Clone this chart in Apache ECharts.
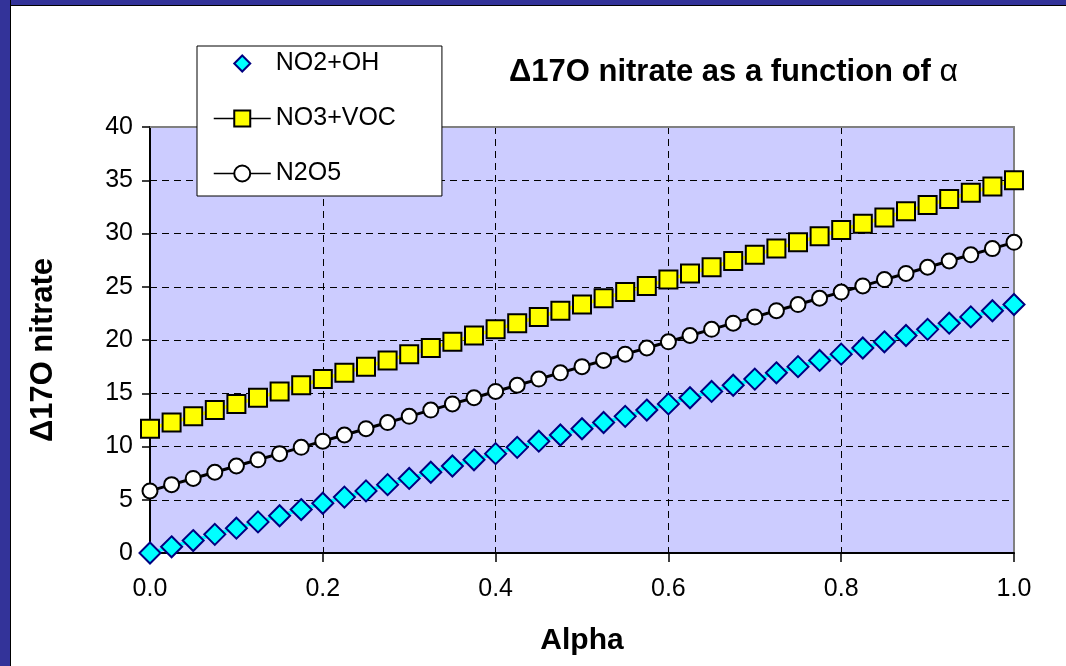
<!DOCTYPE html>
<html>
<head>
<meta charset="utf-8">
<title>Δ17O nitrate as a function of α</title>
<script src="https://cdn.jsdelivr.net/npm/echarts@6/dist/echarts.min.js"></script>
<style>
  html, body { margin: 0; padding: 0; background: #ffffff; }
  #wrap { position: relative; width: 1066px; height: 666px; overflow: hidden; }
  #chart { position: absolute; left: 0; top: 0; width: 1066px; height: 666px; }
  .band-top { position: absolute; left: 0; top: 0; width: 1066px; height: 5px; background: #333399; border-bottom: 1px solid #000; }
  .band-left { position: absolute; left: 0; top: 0; width: 10px; height: 666px; background: #333399; border-right: 1px solid #000; }
</style>
</head>
<body>
<div id="wrap">
  <div id="chart"></div>
  <div class="band-top"></div>
  <div class="band-left"></div>
</div>
<script>
// Mixing fraction alpha
const alpha = [
  0.000, 0.025, 0.050, 0.075, 0.100, 0.125, 0.150, 0.175, 0.200, 0.225,
  0.250, 0.275, 0.300, 0.325, 0.350, 0.375, 0.400, 0.425, 0.450, 0.475,
  0.500, 0.525, 0.550, 0.575, 0.600, 0.625, 0.650, 0.675, 0.700, 0.725,
  0.750, 0.775, 0.800, 0.825, 0.850, 0.875, 0.900, 0.925, 0.950, 0.975,
  1.000
];

// Δ17O of nitrate for each formation pathway
const no2oh = [
  0.00, 0.58, 1.17, 1.75, 2.33, 2.92, 3.50, 4.08, 4.67, 5.25,
  5.83, 6.42, 7.00, 7.58, 8.17, 8.75, 9.33, 9.92, 10.50, 11.08,
  11.67, 12.25, 12.83, 13.42, 14.00, 14.58, 15.17, 15.75, 16.33, 16.92,
  17.50, 18.08, 18.67, 19.25, 19.83, 20.42, 21.00, 21.58, 22.17, 22.75,
  23.33
];
const no3voc = [
  11.67, 12.25, 12.83, 13.42, 14.00, 14.58, 15.17, 15.75, 16.33, 16.92,
  17.50, 18.08, 18.67, 19.25, 19.83, 20.42, 21.00, 21.58, 22.17, 22.75,
  23.33, 23.92, 24.50, 25.08, 25.67, 26.25, 26.83, 27.42, 28.00, 28.58,
  29.17, 29.75, 30.33, 30.92, 31.50, 32.08, 32.67, 33.25, 33.83, 34.42,
  35.00
];
const n2o5 = [
  5.83, 6.42, 7.00, 7.58, 8.17, 8.75, 9.33, 9.92, 10.50, 11.08,
  11.67, 12.25, 12.83, 13.42, 14.00, 14.58, 15.17, 15.75, 16.33, 16.92,
  17.50, 18.08, 18.67, 19.25, 19.83, 20.42, 21.00, 21.58, 22.17, 22.75,
  23.33, 23.92, 24.50, 25.08, 25.67, 26.25, 26.83, 27.42, 28.00, 28.58,
  29.17
];

const seriesNames = ['NO2+OH', 'NO3+VOC', 'N2O5'];
const titleMain = 'Δ17O nitrate as a function of ';
const titleSymbol = 'α';
const xName = 'Alpha';
const yName = 'Δ17O nitrate';

const FONT = '"Liberation Sans", Arial, sans-serif';
const pairs = (ys) => alpha.map((a, i) => [a, ys[i]]);

const chart = echarts.init(document.getElementById('chart'), null, { renderer: 'canvas' });

const dashed = { show: true, lineStyle: { color: '#000000', width: 1, type: [7, 5] } };

chart.setOption({
  animation: false,
  backgroundColor: '#ffffff',
  title: {
    text: '{b|' + titleMain + '}{a|' + titleSymbol + '}',
    left: 509,
    top: 56,
    padding: 0,
    textStyle: {
      fontFamily: FONT, fontSize: 31, fontWeight: 'bold', color: '#000000',
      rich: {
        b: { fontFamily: FONT, fontSize: 31, fontWeight: 'bold', color: '#000000' },
        a: { fontFamily: FONT, fontSize: 32, fontWeight: 'normal', color: '#000000' }
      }
    }
  },
  legend: {
    orient: 'vertical',
    left: 197,
    top: 46,
    padding: [5, 46, 10, 16],
    itemWidth: 57,
    itemHeight: 20,
    itemGap: 30,
    selectedMode: false,
    backgroundColor: '#ffffff',
    borderColor: '#000000',
    borderWidth: 1,
    textStyle: { fontFamily: FONT, fontSize: 25, color: '#000000' },
    data: [
      { name: seriesNames[0], lineStyle: { width: 0, opacity: 0 } },
      { name: seriesNames[1], lineStyle: { color: '#000000', width: 1.5 } },
      { name: seriesNames[2], lineStyle: { color: '#000000', width: 1.5 } }
    ]
  },
  grid: {
    show: true,
    left: 150,
    right: 52,
    top: 127,
    bottom: 113,
    backgroundColor: '#CCCCFF',
    borderWidth: 0
  },
  xAxis: [
    {
      type: 'value',
      min: 0,
      max: 1,
      interval: 0.2,
      position: 'bottom',
      name: xName,
      nameLocation: 'middle',
      nameGap: 73,
      nameTextStyle: { fontFamily: FONT, fontSize: 30, fontWeight: 'bold', color: '#000000' },
      axisLine: { show: true, onZero: false, lineStyle: { color: '#000000', width: 2 } },
      axisTick: { show: true, inside: false, length: 9, lineStyle: { color: '#000000', width: 1.5 } },
      axisLabel: {
        margin: 24,
        fontFamily: FONT, fontSize: 25, color: '#000000',
        formatter: (v) => v.toFixed(1)
      },
      splitLine: dashed
    },
    {
      type: 'value',
      min: 0,
      max: 1,
      position: 'top',
      axisLine: { show: true, onZero: false, lineStyle: { color: '#808080', width: 2 } },
      axisTick: { show: false },
      axisLabel: { show: false },
      splitLine: { show: false }
    }
  ],
  yAxis: [
    {
      type: 'value',
      min: 0,
      max: 40,
      interval: 5,
      position: 'left',
      name: yName,
      nameLocation: 'middle',
      nameRotate: 90,
      nameGap: 91,
      nameTextStyle: {
        fontFamily: FONT, fontSize: 31, fontWeight: 'bold', color: '#000000',
        padding: [0, 20, 0, 0]
      },
      axisLine: { show: true, onZero: false, lineStyle: { color: '#000000', width: 2 } },
      axisTick: { show: true, inside: false, length: 8, lineStyle: { color: '#000000', width: 1.5 } },
      axisLabel: { margin: 17, fontFamily: FONT, fontSize: 25, color: '#000000' },
      splitLine: dashed
    },
    {
      type: 'value',
      min: 0,
      max: 40,
      position: 'right',
      axisLine: { show: true, onZero: false, lineStyle: { color: '#808080', width: 2 } },
      axisTick: { show: false },
      axisLabel: { show: false },
      splitLine: { show: false }
    }
  ],
  series: [
    {
      name: seriesNames[0],
      type: 'line',
      data: pairs(no2oh),
      symbol: 'diamond',
      symbolSize: 21,
      showAllSymbol: true,
      lineStyle: { color: '#00FFFF', width: 3.5 },
      itemStyle: { color: '#00FFFF', borderColor: '#000080', borderWidth: 2 },
      emphasis: { disabled: true },
      z: 3
    },
    {
      name: seriesNames[1],
      type: 'line',
      data: pairs(no3voc),
      symbol: 'rect',
      symbolSize: 18,
      showAllSymbol: true,
      lineStyle: { color: '#FFFF00', width: 3.5 },
      itemStyle: { color: '#FFFF00', borderColor: '#000000', borderWidth: 2 },
      emphasis: { disabled: true },
      z: 3
    },
    {
      name: seriesNames[2],
      type: 'line',
      data: pairs(n2o5),
      symbol: 'circle',
      symbolSize: 15,
      showAllSymbol: true,
      lineStyle: { color: '#000000', width: 3 },
      itemStyle: { color: '#FFFFFF', borderColor: '#000000', borderWidth: 2 },
      emphasis: { disabled: true },
      z: 3
    }
  ]
});
</script>
</body>
</html>
